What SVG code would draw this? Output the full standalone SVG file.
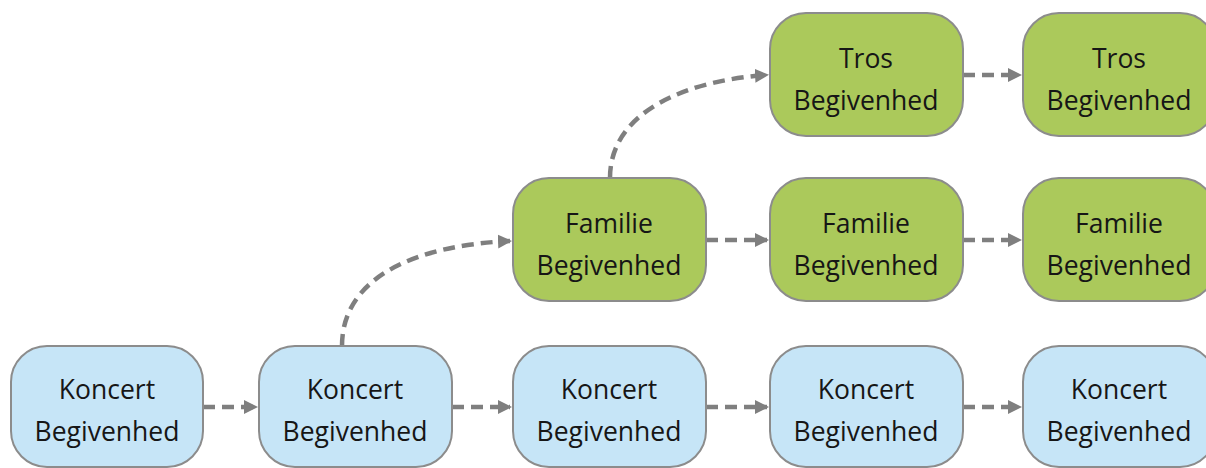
<svg xmlns="http://www.w3.org/2000/svg" width="1206" height="468" viewBox="0 0 1206 468">
<style>
.blue{fill:#c6e5f7;stroke:#8c8c8c;stroke-width:2}
.green{fill:#abc95b;stroke:#8c8c8c;stroke-width:2}
.t{font-family:"Open Sans","Noto Sans","Liberation Sans",sans-serif;font-size:26.5px;fill:#161616;text-anchor:middle}
.c{fill:none;stroke:#7f7f7f;stroke-width:4.5;stroke-dasharray:12 7}
</style>
<defs>
<marker id="ah" markerWidth="14" markerHeight="14" refX="12" refY="7" orient="auto" markerUnits="userSpaceOnUse">
<path d="M0,0 L14,7 L0,14 Z" fill="#7f7f7f"/>
</marker>
</defs>
<rect width="1206" height="468" fill="#ffffff"/>
<g id="connectors">
<path class="c" d="M203,407 L256,407" marker-end="url(#ah)"/>
<path class="c" d="M452,407 L510,407" marker-end="url(#ah)"/>
<path class="c" d="M706,407 L767,407" marker-end="url(#ah)"/>
<path class="c" d="M963,407 L1020,407" marker-end="url(#ah)"/>
<path class="c" d="M706,240 L767,240" marker-end="url(#ah)"/>
<path class="c" d="M963,240 L1020,240" marker-end="url(#ah)"/>
<path class="c" d="M963,75 L1020,75" marker-end="url(#ah)"/>
<path class="c" d="M342,346 C342,275 420,245 510,241" marker-end="url(#ah)"/>
<path class="c" d="M610,178 C610,110 690,80 767,75" marker-end="url(#ah)"/>
</g>
<g id="k1"><rect class="blue" x="11" y="346" width="192" height="121" rx="36"/><text class="t" x="107" y="399">Koncert</text><text class="t" x="107" y="441">Begivenhed</text></g>
<g id="k2"><rect class="blue" x="259" y="346" width="193" height="121" rx="36"/><text class="t" x="355" y="399">Koncert</text><text class="t" x="355" y="441">Begivenhed</text></g>
<g id="k3"><rect class="blue" x="513" y="346" width="193" height="121" rx="36"/><text class="t" x="609" y="399">Koncert</text><text class="t" x="609" y="441">Begivenhed</text></g>
<g id="k4"><rect class="blue" x="770" y="346" width="193" height="121" rx="36"/><text class="t" x="866" y="399">Koncert</text><text class="t" x="866" y="441">Begivenhed</text></g>
<g id="k5"><rect class="blue" x="1023" y="346" width="193" height="121" rx="36"/><text class="t" x="1119" y="399">Koncert</text><text class="t" x="1119" y="441">Begivenhed</text></g>
<g id="f1"><rect class="green" x="513" y="178" width="193" height="123" rx="36"/><text class="t" x="609" y="233">Familie</text><text class="t" x="609" y="275">Begivenhed</text></g>
<g id="f2"><rect class="green" x="770" y="178" width="193" height="123" rx="36"/><text class="t" x="866" y="233">Familie</text><text class="t" x="866" y="275">Begivenhed</text></g>
<g id="f3"><rect class="green" x="1023" y="178" width="193" height="123" rx="36"/><text class="t" x="1119" y="233">Familie</text><text class="t" x="1119" y="275">Begivenhed</text></g>
<g id="t1"><rect class="green" x="770" y="13" width="193" height="123" rx="36"/><text class="t" x="866" y="68">Tros</text><text class="t" x="866" y="110">Begivenhed</text></g>
<g id="t2"><rect class="green" x="1023" y="13" width="193" height="123" rx="36"/><text class="t" x="1119" y="68">Tros</text><text class="t" x="1119" y="110">Begivenhed</text></g>
</svg>
